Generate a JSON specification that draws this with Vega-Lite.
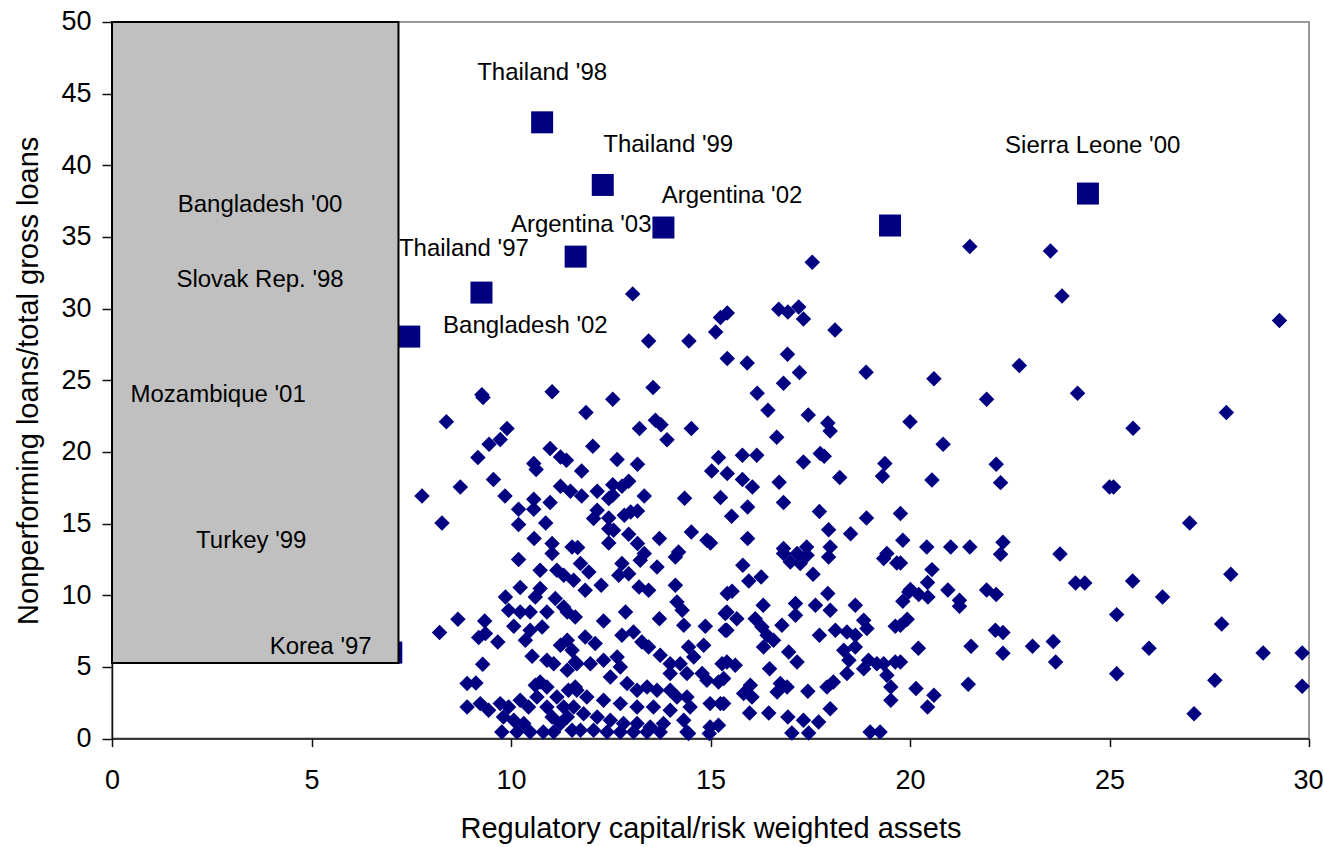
{
  "$schema": "https://vega.github.io/schema/vega-lite/v6.json",
  "width": 1197,
  "height": 716.6,
  "autosize": {"type": "none"},
  "padding": {"left": 112, "top": 22, "right": 14, "bottom": 108},
  "background": "white",
  "config": {
    "font": "Liberation Sans",
    "view": {"stroke": "#999999", "strokeWidth": 2}
  },
  "datasets": {
    "pts": [
      {"x":17.55,"y":33.24},{"x":13.05,"y":31.03},{"x":13.45,"y":27.75},{"x":14.46,"y":27.75},{"x":15.13,"y":28.37},
      {"x":15.25,"y":29.38},{"x":15.42,"y":29.7},{"x":16.71,"y":29.96},{"x":16.94,"y":29.77},{"x":17.21,"y":30.12},
      {"x":17.33,"y":29.28},{"x":18.12,"y":28.51},{"x":15.42,"y":26.52},{"x":15.92,"y":26.21},{"x":16.93,"y":26.82},
      {"x":17.23,"y":25.54},{"x":16.83,"y":24.8},{"x":18.9,"y":25.56},{"x":13.56,"y":24.5},{"x":11.03,"y":24.2},
      {"x":9.27,"y":24.0},{"x":9.3,"y":23.8},{"x":16.17,"y":24.1},{"x":21.5,"y":34.33},{"x":23.52,"y":34.03},
      {"x":23.81,"y":30.89},{"x":29.26,"y":29.17},{"x":20.6,"y":25.1},{"x":22.74,"y":26.03},{"x":24.2,"y":24.1},
      {"x":21.92,"y":23.68},{"x":27.93,"y":22.75},{"x":20.0,"y":22.1},{"x":25.59,"y":21.65},{"x":20.83,"y":20.54},
      {"x":22.16,"y":19.14},{"x":20.55,"y":18.05},{"x":22.27,"y":17.86},{"x":25.0,"y":17.56},{"x":25.1,"y":17.56},
      {"x":27.01,"y":15.05},{"x":19.76,"y":15.7},{"x":19.82,"y":13.84},{"x":20.42,"y":13.37},{"x":21.02,"y":13.37},
      {"x":21.5,"y":13.37},{"x":22.33,"y":13.7},{"x":22.27,"y":12.86},{"x":19.76,"y":12.25},{"x":23.76,"y":12.88},
      {"x":20.55,"y":11.79},{"x":20.44,"y":10.89},{"x":20.01,"y":10.4},{"x":20.22,"y":10.05},{"x":20.45,"y":9.88},
      {"x":19.82,"y":9.58},{"x":20.95,"y":10.37},{"x":21.24,"y":9.65},{"x":21.24,"y":9.23},{"x":21.92,"y":10.37},
      {"x":22.16,"y":10.05},{"x":24.15,"y":10.86},{"x":24.38,"y":10.86},{"x":25.58,"y":11.0},{"x":28.04,"y":11.47},
      {"x":26.33,"y":9.88},{"x":25.18,"y":8.65},{"x":19.93,"y":8.33},{"x":19.76,"y":7.9},{"x":27.81,"y":8.0},
      {"x":22.14,"y":7.56},{"x":22.33,"y":7.4},{"x":20.21,"y":6.3},{"x":21.53,"y":6.44},{"x":22.33,"y":5.95},
      {"x":23.07,"y":6.44},{"x":23.59,"y":6.77},{"x":23.65,"y":5.35},{"x":25.99,"y":6.3},{"x":28.85,"y":5.98},
      {"x":29.83,"y":5.98},{"x":19.76,"y":5.35},{"x":25.18,"y":4.53},{"x":27.64,"y":4.07},{"x":29.83,"y":3.65},
      {"x":20.15,"y":3.49},{"x":21.46,"y":3.79},{"x":20.6,"y":3.02},{"x":20.44,"y":2.2},{"x":27.12,"y":1.74},
      {"x":12.55,"y":23.68},{"x":8.38,"y":22.1},{"x":11.88,"y":22.75},{"x":13.62,"y":22.21},{"x":13.76,"y":21.9},
      {"x":13.22,"y":21.63},{"x":13.91,"y":20.85},{"x":9.9,"y":21.63},{"x":9.45,"y":20.54},{"x":9.73,"y":20.87},
      {"x":9.17,"y":19.61},{"x":10.98,"y":20.24},{"x":12.05,"y":20.4},{"x":11.24,"y":19.65},{"x":11.39,"y":19.42},
      {"x":12.66,"y":19.47},{"x":13.17,"y":19.14},{"x":10.57,"y":19.19},{"x":10.63,"y":18.77},{"x":11.77,"y":18.67},
      {"x":9.56,"y":18.07},{"x":8.73,"y":17.56},{"x":7.77,"y":16.93},{"x":11.24,"y":17.61},{"x":11.49,"y":17.26},
      {"x":11.77,"y":16.93},{"x":12.16,"y":17.26},{"x":12.55,"y":17.72},{"x":12.78,"y":17.61},{"x":12.95,"y":17.96},
      {"x":13.34,"y":16.93},{"x":9.85,"y":16.93},{"x":10.19,"y":16.0},{"x":10.57,"y":16.7},{"x":10.57,"y":16.0},
      {"x":10.98,"y":16.47},{"x":12.45,"y":16.75},{"x":12.55,"y":16.98},{"x":12.16,"y":15.93},{"x":12.07,"y":15.35},
      {"x":12.84,"y":15.58},{"x":13.0,"y":15.81},{"x":13.17,"y":15.88},{"x":12.45,"y":15.39},{"x":12.45,"y":14.65},
      {"x":12.57,"y":14.54},{"x":8.27,"y":15.05},{"x":10.19,"y":14.93},{"x":10.87,"y":15.05},{"x":12.95,"y":14.26},
      {"x":13.17,"y":13.61},{"x":13.72,"y":13.96},{"x":13.34,"y":12.91},{"x":10.58,"y":13.96},{"x":11.03,"y":13.61},
      {"x":11.03,"y":12.91},{"x":11.53,"y":13.37},{"x":11.67,"y":13.33},{"x":12.45,"y":13.65},{"x":10.19,"y":12.5},
      {"x":16.44,"y":22.91},{"x":17.45,"y":22.58},{"x":17.94,"y":22.02},{"x":18.0,"y":21.47},{"x":14.52,"y":21.63},
      {"x":16.66,"y":21.03},{"x":15.2,"y":19.61},{"x":15.8,"y":19.77},{"x":16.16,"y":19.77},{"x":17.33,"y":19.3},
      {"x":17.75,"y":19.89},{"x":17.85,"y":19.7},{"x":19.37,"y":19.19},{"x":19.31,"y":18.3},{"x":15.03,"y":18.67},
      {"x":15.42,"y":18.49},{"x":15.8,"y":18.07},{"x":16.05,"y":17.56},{"x":16.72,"y":17.89},{"x":18.24,"y":18.21},
      {"x":14.35,"y":16.77},{"x":15.25,"y":16.82},{"x":15.93,"y":16.16},{"x":16.83,"y":16.47},{"x":15.53,"y":15.51},
      {"x":17.73,"y":15.84},{"x":18.91,"y":15.39},{"x":14.52,"y":14.42},{"x":14.91,"y":13.84},{"x":15.0,"y":13.65},
      {"x":15.93,"y":13.96},{"x":17.96,"y":14.58},{"x":18.51,"y":14.3},{"x":14.2,"y":13.02},{"x":16.83,"y":13.26},
      {"x":17.41,"y":13.37},{"x":18.0,"y":13.37},{"x":19.42,"y":12.91},
      {"x":10.73,"y":11.74},{"x":11.15,"y":11.74},{"x":11.32,"y":11.4},{"x":11.57,"y":11.05},{"x":10.23,"y":10.54},
      {"x":9.86,"y":9.88},{"x":10.61,"y":9.88},{"x":10.73,"y":10.47},{"x":11.11,"y":9.77},{"x":11.32,"y":9.18},
      {"x":11.41,"y":8.83},{"x":9.94,"y":8.95},{"x":10.23,"y":8.83},{"x":10.48,"y":8.83},{"x":10.9,"y":8.83},
      {"x":10.78,"y":7.79},{"x":10.07,"y":7.84},{"x":10.48,"y":7.56},{"x":10.36,"y":6.86},{"x":11.61,"y":8.49},
      {"x":8.67,"y":8.33},{"x":8.21,"y":7.4},{"x":9.34,"y":8.21},{"x":9.19,"y":7.05},{"x":9.36,"y":7.33},
      {"x":9.67,"y":6.74},{"x":11.24,"y":6.51},{"x":11.41,"y":6.86},{"x":10.53,"y":5.74},{"x":10.9,"y":5.46},
      {"x":11.07,"y":5.23},{"x":11.41,"y":4.77},{"x":11.61,"y":5.35},{"x":9.29,"y":5.18},{"x":8.9,"y":3.84},
      {"x":9.12,"y":3.88},{"x":10.61,"y":3.72},{"x":10.73,"y":3.95},{"x":10.9,"y":3.6},{"x":8.9,"y":2.2},
      {"x":9.23,"y":2.44},{"x":9.44,"y":1.98},{"x":9.73,"y":2.44},{"x":9.94,"y":2.2},{"x":9.81,"y":1.51},
      {"x":9.77,"y":0.46},{"x":10.23,"y":2.67},{"x":10.44,"y":2.2},{"x":10.65,"y":2.9},{"x":10.07,"y":1.28},
      {"x":10.32,"y":1.05},{"x":10.15,"y":0.46},{"x":10.48,"y":0.46},{"x":10.81,"y":0.46},{"x":10.9,"y":2.2},
      {"x":11.15,"y":2.9},{"x":11.32,"y":2.2},{"x":11.03,"y":1.51},{"x":11.24,"y":1.05},{"x":11.41,"y":1.51},
      {"x":11.07,"y":0.46},{"x":11.53,"y":0.58},{"x":11.44,"y":3.37},{"x":11.61,"y":3.6},{"x":11.53,"y":6.16},
      {"x":11.74,"y":12.21},{"x":11.95,"y":11.63},{"x":11.86,"y":10.35},{"x":12.26,"y":10.7},{"x":12.78,"y":12.21},
      {"x":12.95,"y":11.51},{"x":12.7,"y":11.4},{"x":13.24,"y":12.44},{"x":13.66,"y":11.98},{"x":13.21,"y":10.58},
      {"x":13.45,"y":10.35},{"x":14.12,"y":12.67},{"x":14.12,"y":10.7},{"x":14.16,"y":9.53},{"x":14.29,"y":8.95},
      {"x":14.33,"y":7.91},{"x":12.32,"y":8.21},{"x":12.87,"y":8.83},{"x":13.72,"y":8.37},{"x":14.87,"y":7.84},
      {"x":11.86,"y":7.09},{"x":12.11,"y":6.63},{"x":12.78,"y":7.21},{"x":13.07,"y":7.44},{"x":13.28,"y":6.74},
      {"x":13.45,"y":6.39},{"x":13.74,"y":5.81},{"x":14.45,"y":6.39},{"x":14.83,"y":6.51},{"x":13.99,"y":5.23},
      {"x":14.24,"y":5.23},{"x":14.58,"y":5.69},{"x":13.99,"y":4.54},{"x":14.41,"y":4.54},{"x":14.79,"y":4.54},
      {"x":14.91,"y":4.07},{"x":15.2,"y":3.95},{"x":15.29,"y":5.23},{"x":15.42,"y":10.12},{"x":15.37,"y":8.72},
      {"x":15.37,"y":7.56},
      {"x":11.65,"y":5.23},{"x":11.99,"y":5.23},{"x":12.32,"y":5.46},{"x":12.66,"y":5.69},{"x":12.74,"y":5.0},
      {"x":12.49,"y":4.3},{"x":12.91,"y":3.84},{"x":13.16,"y":3.37},{"x":13.41,"y":3.6},{"x":13.66,"y":3.37},
      {"x":13.99,"y":3.37},{"x":14.16,"y":2.9},{"x":14.41,"y":2.9},{"x":14.49,"y":2.2},{"x":14.33,"y":1.28},
      {"x":13.99,"y":1.98},{"x":13.57,"y":2.2},{"x":13.16,"y":2.2},{"x":12.74,"y":2.44},{"x":12.32,"y":2.67},
      {"x":11.9,"y":2.9},{"x":11.65,"y":3.37},{"x":11.57,"y":2.2},{"x":11.82,"y":1.74},{"x":12.16,"y":1.51},
      {"x":12.49,"y":1.28},{"x":12.82,"y":1.05},{"x":13.16,"y":1.05},{"x":13.49,"y":0.81},{"x":13.82,"y":1.05},
      {"x":11.74,"y":0.58},{"x":12.07,"y":0.58},{"x":12.41,"y":0.46},{"x":12.74,"y":0.46},{"x":13.07,"y":0.46},
      {"x":13.41,"y":0.46},{"x":13.74,"y":0.46},{"x":14.41,"y":0.46},{"x":14.99,"y":2.44},{"x":15.25,"y":2.44},
      {"x":14.99,"y":0.81},{"x":15.2,"y":0.93},{"x":14.45,"y":0.35},{"x":14.97,"y":0.35},
      {"x":16.83,"y":12.91},{"x":17.17,"y":12.91},{"x":17.42,"y":12.79},{"x":17.0,"y":12.32},{"x":17.25,"y":12.21},
      {"x":17.96,"y":12.67},{"x":19.34,"y":12.56},{"x":19.67,"y":12.25},{"x":15.81,"y":12.09},{"x":15.96,"y":11.0},
      {"x":16.27,"y":11.28},{"x":17.57,"y":11.47},{"x":15.54,"y":10.28},{"x":16.32,"y":9.3},{"x":17.13,"y":9.42},
      {"x":17.13,"y":8.6},{"x":17.63,"y":9.3},{"x":17.94,"y":10.12},{"x":18.0,"y":8.95},{"x":18.63,"y":9.3},
      {"x":19.97,"y":10.23},{"x":15.41,"y":8.83},{"x":15.66,"y":8.37},{"x":15.41,"y":7.56},{"x":16.12,"y":8.37},
      {"x":16.29,"y":7.79},{"x":16.42,"y":7.21},{"x":16.33,"y":6.39},{"x":16.58,"y":6.86},{"x":16.79,"y":7.91},
      {"x":18.84,"y":8.26},{"x":18.92,"y":7.68},{"x":17.73,"y":7.21},{"x":18.13,"y":7.56},{"x":18.42,"y":7.44},
      {"x":18.63,"y":7.21},{"x":18.34,"y":6.16},{"x":18.63,"y":6.39},{"x":18.47,"y":5.46},{"x":18.42,"y":4.54},
      {"x":19.63,"y":7.84},{"x":16.96,"y":6.04},{"x":17.17,"y":5.35},{"x":18.96,"y":5.46},{"x":19.17,"y":5.23},
      {"x":18.84,"y":4.88},{"x":19.34,"y":5.23},{"x":19.63,"y":5.35},{"x":19.42,"y":4.42},{"x":19.52,"y":3.6},
      {"x":19.52,"y":2.67},{"x":15.41,"y":5.35},{"x":15.62,"y":5.12},{"x":15.33,"y":4.19},{"x":16.48,"y":4.88},
      {"x":16.0,"y":3.72},{"x":15.83,"y":3.14},{"x":16.04,"y":2.9},{"x":16.75,"y":3.84},{"x":16.92,"y":3.6},
      {"x":16.67,"y":3.25},{"x":17.44,"y":3.3},{"x":17.92,"y":3.6},{"x":18.08,"y":3.95},{"x":18.0,"y":2.09},
      {"x":15.33,"y":2.44},{"x":15.98,"y":1.79},{"x":16.46,"y":1.79},{"x":16.94,"y":1.51},{"x":17.33,"y":1.28},
      {"x":17.71,"y":1.16},{"x":17.04,"y":0.39},{"x":17.46,"y":0.39},{"x":19.0,"y":0.46},{"x":19.25,"y":0.46}
    ],
    "crisis": [
      {"x":10.78,"y":43.0},{"x":12.3,"y":38.63},{"x":13.82,"y":35.66},{"x":11.62,"y":33.63},
      {"x":9.26,"y":31.12},{"x":7.45,"y":28.05},{"x":19.5,"y":35.8},{"x":24.46,"y":38.03},{"x":7.0,"y":6.0}
    ],
    "box": [{"x":0,"y":5.27,"x2":7.18,"y2":50}],
    "labels": [
      {"x":10.78,"y":46.43,"label":"Thailand '98"},
      {"x":13.94,"y":41.4,"label":"Thailand '99"},
      {"x":15.54,"y":37.87,"label":"Argentina '02"},
      {"x":11.76,"y":35.82,"label":"Argentina '03"},
      {"x":8.82,"y":34.15,"label":"Thailand '97"},
      {"x":10.36,"y":28.77,"label":"Bangladesh '02"},
      {"x":24.58,"y":41.35,"label":"Sierra Leone '00"},
      {"x":3.71,"y":37.22,"label":"Bangladesh '00"},
      {"x":3.71,"y":32.03,"label":"Slovak Rep. '98"},
      {"x":2.66,"y":23.96,"label":"Mozambique '01"},
      {"x":3.49,"y":13.77,"label":"Turkey '99"},
      {"x":5.23,"y":6.39,"label":"Korea '97"}
    ]
  },
  "encoding": {
    "x": {
      "field": "x", "type": "quantitative",
      "scale": {"domain": [0, 30], "nice": false, "zero": false},
      "axis": {
        "title": "Regulatory capital/risk weighted assets",
        "values": [0, 5, 10, 15, 20, 25, 30],
        "grid": false,
        "domainColor": "#111111", "domainWidth": 1.5,
        "tickColor": "#111111", "tickWidth": 1.5, "tickSize": 8,
        "labelFont": "Liberation Sans", "labelFontSize": 27, "labelColor": "#000000", "labelPadding": 21,
        "labelFlush": false, "labelOverlap": false,
        "labelAlign": {"condition": {"test": "datum.value === 30", "value": "right"}, "value": "center"},
        "labelOffset": {"condition": {"test": "datum.value === 30", "value": 14}, "value": 0},
        "titleFont": "Liberation Sans", "titleFontSize": 29, "titleFontWeight": "normal", "titleColor": "#000000", "titlePadding": 21
      }
    },
    "y": {
      "field": "y", "type": "quantitative",
      "scale": {"domain": [0, 50], "nice": false, "zero": false},
      "axis": {
        "title": "Nonperforming loans/total gross loans",
        "values": [0, 5, 10, 15, 20, 25, 30, 35, 40, 45, 50],
        "grid": false,
        "domainColor": "#111111", "domainWidth": 1.5,
        "tickColor": "#111111", "tickWidth": 1.5, "tickSize": 10,
        "labelFont": "Liberation Sans", "labelFontSize": 27, "labelColor": "#000000", "labelPadding": 11,
        "labelFlush": false, "labelOverlap": false,
        "titleFont": "Liberation Sans", "titleFontSize": 29, "titleFontWeight": "normal", "titleColor": "#000000", "titlePadding": 17
      }
    }
  },
  "layer": [
    {
      "data": {"name": "pts"},
      "mark": {"type": "point", "shape": "diamond", "filled": true, "fill": "#000080", "opacity": 1, "size": 240, "strokeWidth": 0}
    },
    {
      "data": {"name": "crisis"},
      "mark": {"type": "square", "filled": true, "fill": "#000080", "opacity": 1, "size": 484, "strokeWidth": 0}
    },
    {
      "data": {"name": "box"},
      "mark": {"type": "rect", "fill": "#c0c0c0", "stroke": "#000000", "strokeWidth": 2},
      "encoding": {"x2": {"field": "x2"}, "y2": {"field": "y2"}}
    },
    {
      "data": {"name": "labels"},
      "mark": {"type": "text", "font": "Liberation Sans", "fontSize": 24, "color": "#000000", "align": "center", "baseline": "middle"},
      "encoding": {"text": {"field": "label", "type": "nominal"}}
    }
  ]
}
